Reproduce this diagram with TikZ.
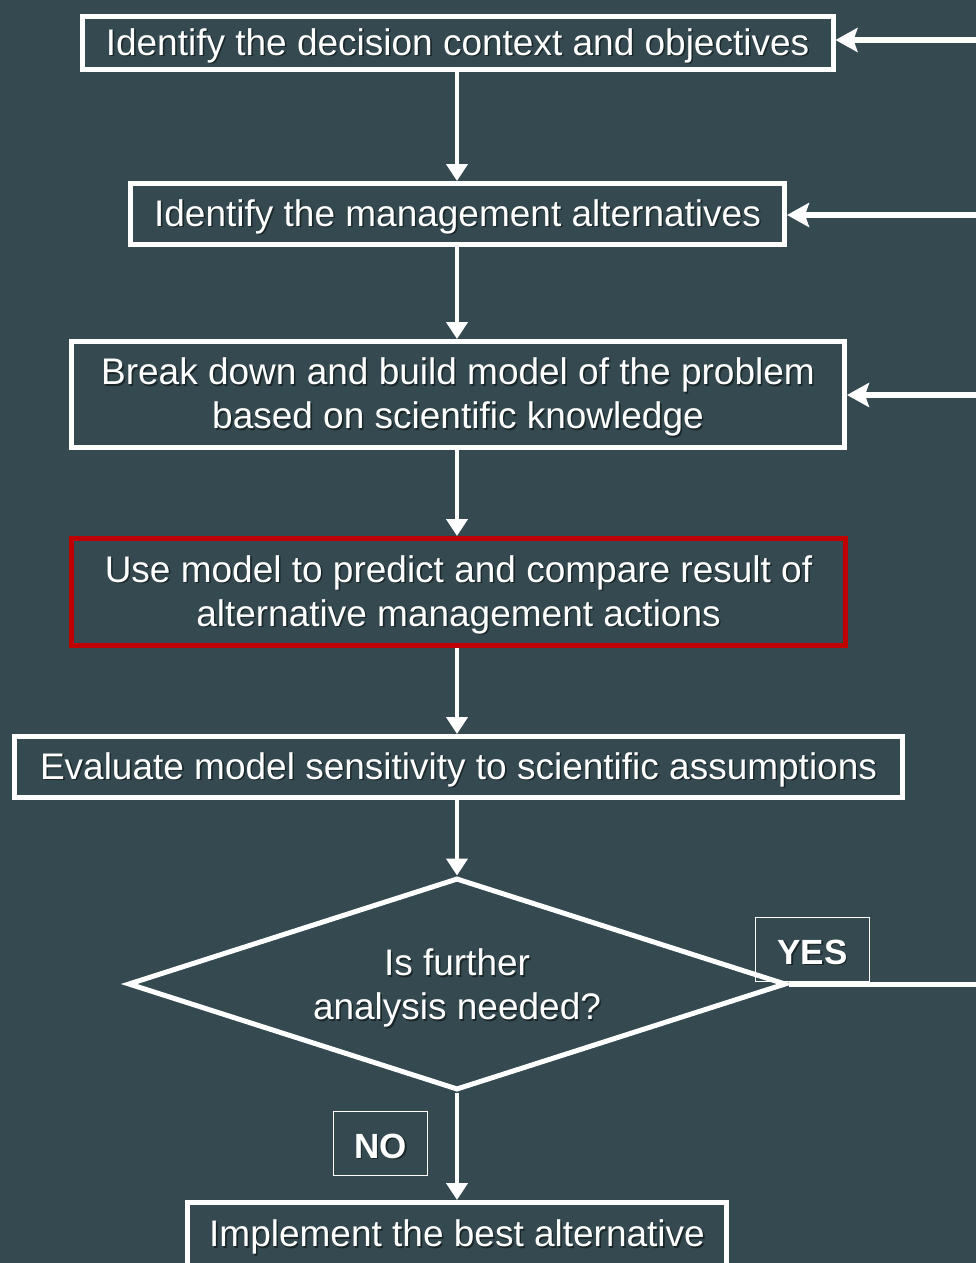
\documentclass[tikz,border=0pt]{standalone}
\usepackage{fontspec}
\setmainfont{Liberation Sans}
\usetikzlibrary{arrows.meta,shapes.geometric}
\definecolor{slate}{HTML}{344A50}
\definecolor{alertred}{HTML}{C00000}
\definecolor{shade}{HTML}{1B2629}
% white text with a soft drop shadow, set a little below its box centre
\newcommand\shd[1]{\leavevmode\raisebox{-3.5pt}[\height][\depth]{\rlap{\kern1.6pt\raisebox{-1.8pt}{\color{shade}#1}}#1}}
\tikzset{
  base/.style={text=white, font=\fontsize{37}{44}\selectfont, align=center, inner sep=0pt},
  stepbox/.style={base, draw=white, line width=5pt, rectangle},
  redbox/.style={base, draw=alertred, line width=5pt, rectangle},
  tagbox/.style={base, draw=white, line width=1.5pt, font=\fontsize{35}{40}\selectfont\bfseries},
  flow/.style={draw=white, line width=4.5pt, -{Triangle[length=17pt,width=21pt]}},
  back/.style={draw=white, line width=6pt, -{Stealth[length=22pt,width=24pt,inset=4pt]}},
}
\begin{document}
\begin{tikzpicture}[x=1pt,y=-1pt]
  \fill[slate] (0,0) rectangle (976,1263);
  \useasboundingbox (0,0) rectangle (976,1263);
  \clip (0,0) rectangle (976,1263);

  \node[stepbox, minimum width=751, minimum height=53] (ctx) at (457.5,43)
    {\shd{Identify the decision context and objectives}};
  \node[stepbox, minimum width=654, minimum height=61] (alt) at (457.5,214)
    {\shd{Identify the management alternatives}};
  \node[stepbox, minimum width=773, minimum height=106] (model) at (458,394.5)
    {\shd{Break down and build model of the problem}\\ \shd{based on scientific knowledge}};
  \node[redbox, minimum width=774, minimum height=107] (predict) at (458.5,592)
    {\shd{Use model to predict and compare result of}\\ \shd{alternative management actions}};
  \node[stepbox, minimum width=888, minimum height=61] (sens) at (458.5,767)
    {\shd{Evaluate model sensitivity to scientific assumptions}};

  \node[diamond, draw=white, line width=5pt, minimum width=658, minimum height=212, inner sep=0pt] (dec) at (457,984) {};
  \node[base] (q) at (457,985.5) {\shd{Is further}\\ \shd{analysis needed?}};

  \node[tagbox, minimum width=114, minimum height=64] (yes) at (812.5,949.5) {\shd{YES}};
  \node[tagbox, minimum width=94, minimum height=64] (no) at (380.5,1143.5) {\shd{NO}};

  \node[stepbox, minimum width=539, minimum height=64] (impl) at (457,1234.5)
    {\shd{Implement the best alternative}};

  % main sequence
  \draw[flow] (ctx.south -| 457,0) -- (alt.north -| 457,0);
  \draw[flow] (alt.south -| 457,0) -- (model.north -| 457,0);
  \draw[flow] (model.south -| 457,0) -- (predict.north -| 457,0);
  \draw[flow] (predict.south -| 457,0) -- (sens.north -| 457,0);
  \draw[flow] (sens.south -| 457,0) -- (dec.north);
  \draw[flow] (dec.south) -- (impl.north -| 457,0);

  % loop back on YES
  \coordinate (loopout) at (980,984);
  \coordinate (loop1) at (980,40);
  \coordinate (loop2) at (980,215);
  \coordinate (loop3) at (980,395);
  \draw[draw=white, line width=5pt] (dec.east) -- (loopout);
  \draw[back] (loop1) -- (ctx.east |- loop1);
  \draw[back] (loop2) -- (alt.east |- loop2);
  \draw[back] (loop3) -- (model.east |- loop3);
\end{tikzpicture}
\end{document}
